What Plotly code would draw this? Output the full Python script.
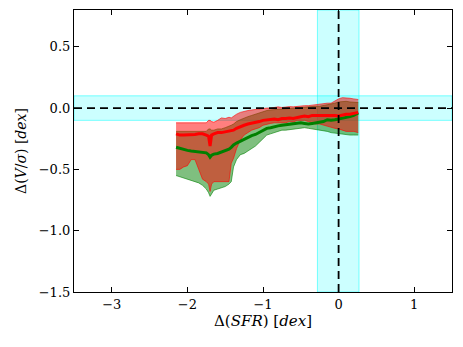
import plotly.graph_objects as go

# binned Delta(SFR) positions
sfr_bins = [-2.15, -2.1, -2.05, -2.0, -1.95, -1.9, -1.85, -1.8, -1.75,
            -1.72, -1.7, -1.68, -1.65, -1.6, -1.55, -1.5, -1.45, -1.42, -1.39,
            -1.35, -1.3, -1.25, -1.2, -1.15, -1.1, -1.05, -1.0, -0.95, -0.9,
            -0.85, -0.8, -0.75, -0.7, -0.65, -0.6, -0.55, -0.5, -0.45, -0.4,
            -0.35, -0.3, -0.25, -0.2, -0.15, -0.1, -0.05, 0.0, 0.05, 0.1,
            0.15, 0.2, 0.26]

red_median = [-0.21, -0.22, -0.22, -0.22, -0.215, -0.215, -0.21, -0.21, -0.22,
              -0.23, -0.31, -0.22, -0.21, -0.2, -0.2, -0.195, -0.19, -0.185, -0.18,
              -0.165, -0.15, -0.14, -0.13, -0.125, -0.12, -0.11, -0.1, -0.095, -0.09,
              -0.09, -0.095, -0.085, -0.085, -0.08, -0.085, -0.075, -0.07, -0.065, -0.07,
              -0.06, -0.06, -0.055, -0.06, -0.06, -0.055, -0.06, -0.065, -0.055, -0.05,
              -0.05, -0.045, -0.035]
red_upper = [-0.12, -0.12, -0.12, -0.12, -0.12, -0.12, -0.12, -0.12, -0.12,
             -0.1, -0.1, -0.11, -0.115, -0.1, -0.08, -0.085, -0.075, -0.08, -0.065,
             -0.05, -0.035, -0.025, -0.02, -0.015, -0.01, -0.005, 0.0, 0.0, 0.0,
             0.005, 0.01, 0.005, 0.01, 0.012, 0.01, 0.015, 0.016, 0.02, 0.02,
             0.025, 0.025, 0.03, 0.035, 0.04, 0.04, 0.06, 0.075, 0.085, 0.085,
             0.08, 0.075, 0.07]
red_lower = [-0.5, -0.5, -0.48, -0.47, -0.42, -0.42, -0.5, -0.58, -0.6,
             -0.62, -0.68, -0.62, -0.6, -0.6, -0.6, -0.6, -0.6, -0.45, -0.41,
             -0.33, -0.26, -0.22, -0.2, -0.18, -0.17, -0.16, -0.14, -0.13, -0.125,
             -0.12, -0.12, -0.115, -0.12, -0.11, -0.115, -0.1, -0.1, -0.1, -0.11,
             -0.12, -0.13, -0.13, -0.14, -0.15, -0.16, -0.165, -0.17, -0.18, -0.19,
             -0.19, -0.19, -0.2]

green_median = [-0.32, -0.33, -0.34, -0.345, -0.35, -0.355, -0.36, -0.36, -0.365,
                -0.38, -0.4, -0.385, -0.375, -0.37, -0.36, -0.35, -0.335, -0.32, -0.3,
                -0.285, -0.27, -0.25, -0.24, -0.225, -0.215, -0.2, -0.18, -0.165, -0.16,
                -0.15, -0.145, -0.14, -0.135, -0.13, -0.13, -0.125, -0.12, -0.125, -0.13,
                -0.125, -0.12, -0.12, -0.11, -0.095, -0.1, -0.095, -0.09, -0.085, -0.075,
                -0.07, -0.06, -0.04]
green_upper = [-0.19, -0.19, -0.19, -0.19, -0.19, -0.19, -0.19, -0.19, -0.19,
               -0.17, -0.17, -0.18, -0.18, -0.17, -0.17, -0.16, -0.15, -0.14, -0.13,
               -0.11, -0.095, -0.08, -0.07, -0.06, -0.05, -0.04, -0.025, -0.02, -0.015,
               -0.01, -0.01, -0.008, -0.005, -0.005, -0.005, 0.0, 0.005, 0.01, 0.01,
               0.015, 0.015, 0.015, 0.02, 0.025, 0.03, 0.04, 0.05, 0.055, 0.055,
               0.05, 0.045, 0.045]
green_lower = [-0.55, -0.56, -0.57, -0.58, -0.59, -0.6, -0.61, -0.63, -0.66,
               -0.69, -0.72, -0.7, -0.67, -0.66, -0.65, -0.64, -0.62, -0.6, -0.48,
               -0.42, -0.38, -0.37, -0.35, -0.33, -0.31, -0.28, -0.25, -0.22, -0.21,
               -0.2, -0.19, -0.18, -0.18, -0.175, -0.17, -0.165, -0.16, -0.16, -0.165,
               -0.17, -0.17, -0.175, -0.18, -0.19, -0.2, -0.205, -0.21, -0.215, -0.215,
               -0.22, -0.22, -0.22]

sfr_band = [-0.28, 0.27]
vsig_band = [-0.1, 0.1]

x_ticks = [-3, -2, -1, 0, 1]
y_ticks = [0.5, 0.0, -0.5, -1.0, -1.5]

fig = go.Figure()


def add_band(x, lo, hi, fill, edge):
    fig.add_trace(go.Scatter(x=x, y=lo, mode="lines", line=dict(color=edge, width=1),
                             showlegend=False, hoverinfo="skip"))
    fig.add_trace(go.Scatter(x=x, y=hi, mode="lines", line=dict(color=edge, width=1),
                             fill="tonexty", fillcolor=fill, showlegend=False, hoverinfo="skip"))


add_band(sfr_bins, green_lower, green_upper, "rgba(0,128,0,0.5)", "rgba(0,128,0,0.6)")
add_band(sfr_bins, red_lower, red_upper, "rgba(255,0,0,0.5)", "rgba(255,0,0,0.6)")

fig.add_trace(go.Scatter(x=sfr_bins, y=green_median, mode="lines",
                         line=dict(color="green", width=3), showlegend=False))
fig.add_trace(go.Scatter(x=sfr_bins, y=red_median, mode="lines",
                         line=dict(color="red", width=3), showlegend=False))

# cyan spans
fig.add_shape(type="rect", xref="x", yref="paper", x0=sfr_band[0], x1=sfr_band[1], y0=0, y1=1,
              fillcolor="rgba(0,255,255,0.2)", line=dict(color="rgba(0,255,255,0.5)", width=1),
              layer="below")
fig.add_shape(type="rect", xref="paper", yref="y", x0=0, x1=1, y0=vsig_band[0], y1=vsig_band[1],
              fillcolor="rgba(0,255,255,0.2)", line=dict(color="rgba(0,255,255,0.5)", width=1),
              layer="below")

# zero lines
fig.add_shape(type="line", xref="x", yref="paper", x0=0, x1=0, y0=0, y1=1,
              line=dict(color="black", width=1.8, dash="8px,5px"))
fig.add_shape(type="line", xref="paper", yref="y", x0=0, x1=1, y0=0, y1=0,
              line=dict(color="black", width=1.8, dash="8px,5px"))

axis_common = dict(
    showgrid=False, zeroline=False, showline=True, linecolor="black", linewidth=1.2,
    mirror="ticks", ticks="inside", ticklen=5, tickcolor="black", automargin=False,
    tickfont=dict(family="DejaVu Serif", size=13, color="black"),
)

fig.update_layout(
    width=463, height=347,
    margin=dict(l=74, r=11, t=10, b=55),
    paper_bgcolor="white", plot_bgcolor="white",
    xaxis=dict(range=[-3.5, 1.5], tickvals=x_ticks,
               ticktext=["\u22123", "\u22122", "\u22121", "0", "1"],
               title=dict(text="\u0394(<i>SFR</i>) [<i>dex</i>]", standoff=4,
                          font=dict(family="DejaVu Serif", size=15, color="black")),
               **axis_common),
    yaxis=dict(range=[-1.5, 0.8], tickvals=y_ticks,
               ticktext=["0.5", "0.0", "\u22120.5", "\u22121.0", "\u22121.5"],
               title=dict(text="\u0394(<i>V</i>/<i>\u03c3</i>) [<i>dex</i>]", standoff=8,
                          font=dict(family="DejaVu Serif", size=14, color="black")),
               **axis_common),
)

fig.write_html("out.html", config={"displayModeBar": False},
               post_script="document.body.style.margin='0';")
